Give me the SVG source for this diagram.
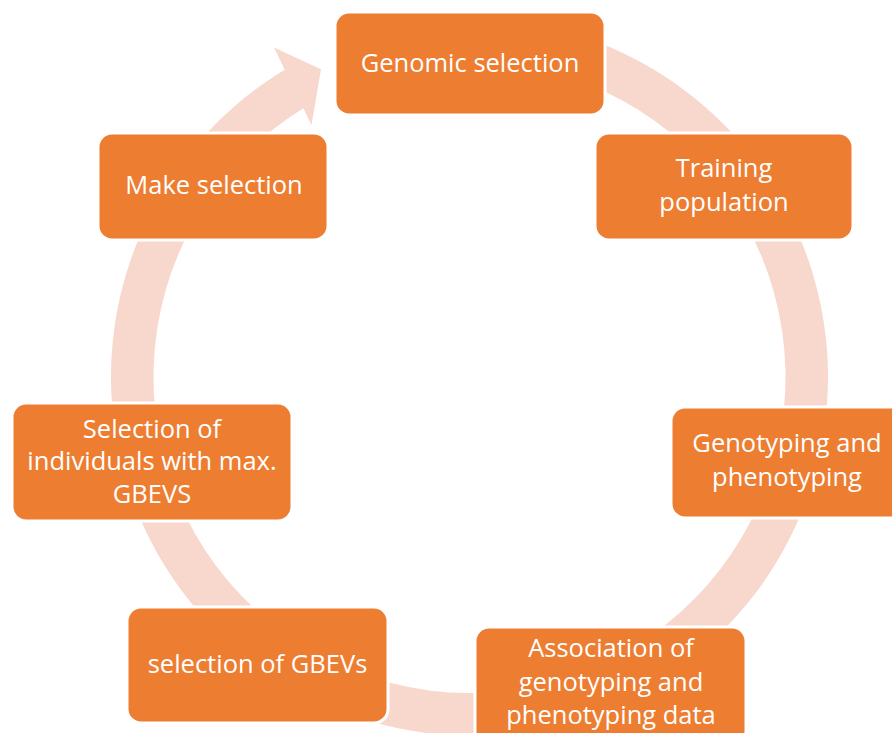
<svg xmlns="http://www.w3.org/2000/svg" width="892" height="733" viewBox="0 0 892 733">
  <style>
    .box { fill: #ED7D31; stroke: #FFFFFF; stroke-width: 3; }
    .lbl { fill: #FFFFFF; font-family: "Open Sans", "Noto Sans", sans-serif; font-size: 25.5px; text-anchor: middle; }
    .ring { fill: #F8D8CD; stroke: none; }
  </style>
  <rect x="0" y="0" width="892" height="733" fill="#FFFFFF"/>
  <g id="connectors">
    <path class="ring" d="M 407.25,23.95 A 358.5 358.5 0 1 1 284.77,69.76 L 274,47.5 L 321,69.3 L 311.5,125 L 303.37,108.19 A 316 316 0 1 0 414.63,65.8 Z"/>
  </g>
  <g id="node-genomic-selection">
    <rect class="box" x="335" y="12" width="270" height="103" rx="14"/>
    <text class="lbl" x="470" y="72">Genomic selection</text>
  </g>
  <g id="node-training-population">
    <rect class="box" x="595" y="133" width="258" height="107" rx="14"/>
    <text class="lbl" x="724" y="177">Training</text>
    <text class="lbl" x="724" y="211">population</text>
  </g>
  <g id="node-genotyping-phenotyping">
    <rect class="box" x="671" y="407" width="240" height="111" rx="14"/>
    <text class="lbl" x="787" y="452">Genotyping and</text>
    <text class="lbl" x="787" y="486">phenotyping</text>
  </g>
  <g id="node-association">
    <rect class="box" x="475" y="627" width="271" height="118" rx="14"/>
    <text class="lbl" x="611" y="657">Association of</text>
    <text class="lbl" x="611" y="691">genotyping and</text>
    <text class="lbl" x="611" y="724">phenotyping data</text>
  </g>
  <g id="node-selection-gbevs">
    <rect class="box" x="127" y="607" width="261" height="116" rx="14"/>
    <text class="lbl" x="257.5" y="673">selection of GBEVs</text>
  </g>
  <g id="node-selection-individuals">
    <rect class="box" x="12" y="403" width="280" height="118" rx="14"/>
    <text class="lbl" x="152" y="438">Selection of</text>
    <text class="lbl" x="152" y="470">individuals with max.</text>
    <text class="lbl" x="152" y="503">GBEVS</text>
  </g>
  <g id="node-make-selection">
    <rect class="box" x="98" y="133" width="230" height="107" rx="14"/>
    <text class="lbl" x="214" y="194">Make selection</text>
  </g>
</svg>
